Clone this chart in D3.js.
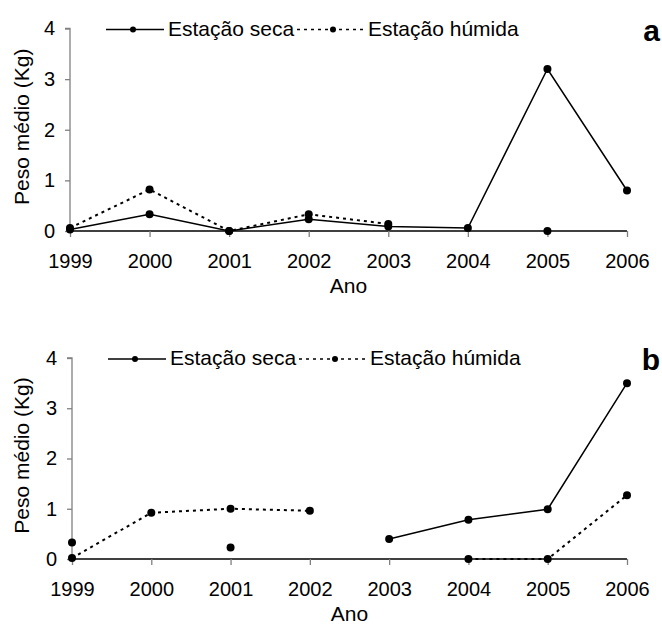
<!DOCTYPE html>
<html>
<head>
<meta charset="utf-8">
<script src="https://cdn.jsdelivr.net/npm/d3@7"></script>
<style>
  html, body { margin: 0; padding: 0; background: #fff; }
  svg { display: block; }
  text { font-family: "Liberation Sans", Arial, Helvetica, sans-serif; }
</style>
</head>
<body>
<svg id="chart" width="662" height="624"></svg>
<script>
// ---- data ----
const years = [1999, 2000, 2001, 2002, 2003, 2004, 2005, 2006];
const yTicks = [0, 1, 2, 3, 4];
const seriesNames = ["Estação seca", "Estação húmida"];
const panelLabels = ["a", "b"];
const xTitle = "Ano";
const yTitle = "Peso médio (Kg)";

// panel a
const dryA = [0.03, 0.33, 0, 0.23, 0.09, 0.06, 3.2, 0.8];
const wetA = [0.06, 0.82, 0, 0.33, 0.14, null, 0, null];
// panel b
const dryB = [0.33, null, 0.23, null, 0.4, 0.78, 0.99, 3.5];
const wetB = [0.02, 0.92, 1.0, 0.96, null, 0, 0, 1.27];

const FONT = "'Liberation Sans', Arial, Helvetica, sans-serif";
const svg = d3.select("#chart").attr("font-family", FONT);

const panels = [
  { label: panelLabels[0], dry: dryA, wet: wetA, x0: 70, x1: 627, yBottom: 231, yTop: 28.5 },
  { label: panelLabels[1], dry: dryB, wet: wetB, x0: 72, x1: 627, yBottom: 559, yTop: 358 }
];

panels.forEach(p => {
  const g = svg.append("g");
  const x = d3.scaleLinear().domain([years[0], years[years.length - 1]]).range([p.x0, p.x1]);
  const y = d3.scaleLinear().domain([0, 4]).range([p.yBottom, p.yTop]);

  // y axis
  const yAxis = g.append("g")
    .attr("transform", `translate(${p.x0},0)`)
    .call(d3.axisLeft(y).tickValues(yTicks).tickSize(5).tickPadding(10).tickFormat(d3.format("d")))
    .attr("font-family", FONT).attr("font-size", 20);
  yAxis.select(".domain").attr("stroke", "#808080").attr("stroke-width", 1.3).attr("d", `M-5,${y(4)}H0V${y(0)}`);
  yAxis.selectAll(".tick line").attr("stroke", "#808080").attr("stroke-width", 1.3);
  yAxis.selectAll(".tick text").attr("fill", "#000");

  // x axis
  const xAxis = g.append("g")
    .attr("transform", `translate(0,${p.yBottom})`)
    .call(d3.axisBottom(x).tickValues(years).tickSize(6).tickPadding(17).tickFormat(d3.format("d")))
    .attr("font-family", FONT).attr("font-size", 20);
  xAxis.select(".domain").attr("stroke", "#000").attr("stroke-width", 1.3).attr("d", `M${p.x0},0H${p.x1}`);
  xAxis.selectAll(".tick line").attr("stroke", "#808080").attr("stroke-width", 1.3);
  xAxis.selectAll(".tick text").attr("fill", "#000");

  // axis titles
  g.append("text")
    .attr("x", (p.x0 + p.x1) / 2)
    .attr("y", p.yBottom + 62)
    .attr("text-anchor", "middle")
    .attr("font-size", 21)
    .text(xTitle);
  g.append("text")
    .attr("transform", `translate(29,${(p.yTop + p.yBottom) / 2 - 3}) rotate(-90)`)
    .attr("text-anchor", "middle")
    .attr("font-size", 21)
    .text(yTitle);

  // lines
  const line = d3.line()
    .defined(d => d.v !== null)
    .x(d => x(d.year))
    .y(d => y(d.v));
  const dryData = years.map((yr, i) => ({ year: yr, v: p.dry[i] }));
  const wetData = years.map((yr, i) => ({ year: yr, v: p.wet[i] }));

  g.append("path").datum(wetData)
    .attr("d", line).attr("fill", "none").attr("stroke", "#000")
    .attr("stroke-width", 2).attr("stroke-dasharray", "3,4");
  g.append("path").datum(dryData)
    .attr("d", line).attr("fill", "none").attr("stroke", "#000")
    .attr("stroke-width", 1.5);

  g.selectAll(".dw").data(wetData.filter(d => d.v !== null)).enter()
    .append("circle").attr("cx", d => x(d.year)).attr("cy", d => y(d.v)).attr("r", 4).attr("fill", "#000");
  g.selectAll(".dd").data(dryData.filter(d => d.v !== null)).enter()
    .append("circle").attr("cx", d => x(d.year)).attr("cy", d => y(d.v)).attr("r", 4).attr("fill", "#000");

  // legend
  const ly = y(4) + 1;
  const lg = g.append("g").attr("transform", `translate(${p.x0},${ly})`);
  lg.append("line").attr("x1", 36).attr("x2", 94).attr("y1", 0).attr("y2", 0)
    .attr("stroke", "#000").attr("stroke-width", 1.5);
  lg.append("circle").attr("cx", 63).attr("cy", 0).attr("r", 3).attr("fill", "#000");
  lg.append("text").attr("x", 98).attr("y", 6).attr("font-size", 21).text(seriesNames[0]);
  lg.append("line").attr("x1", 227).attr("x2", 294).attr("y1", 0).attr("y2", 0)
    .attr("stroke", "#000").attr("stroke-width", 1.5).attr("stroke-dasharray", "3,4");
  lg.append("circle").attr("cx", 263).attr("cy", 0).attr("r", 3).attr("fill", "#000");
  lg.append("text").attr("x", 298).attr("y", 6).attr("font-size", 21).text(seriesNames[1]);

  // panel label
  g.append("text")
    .attr("x", 660).attr("y", p.yTop + 12)
    .attr("text-anchor", "end")
    .attr("font-size", 30).attr("font-weight", "bold")
    .text(p.label);
});
</script>
</body>
</html>
